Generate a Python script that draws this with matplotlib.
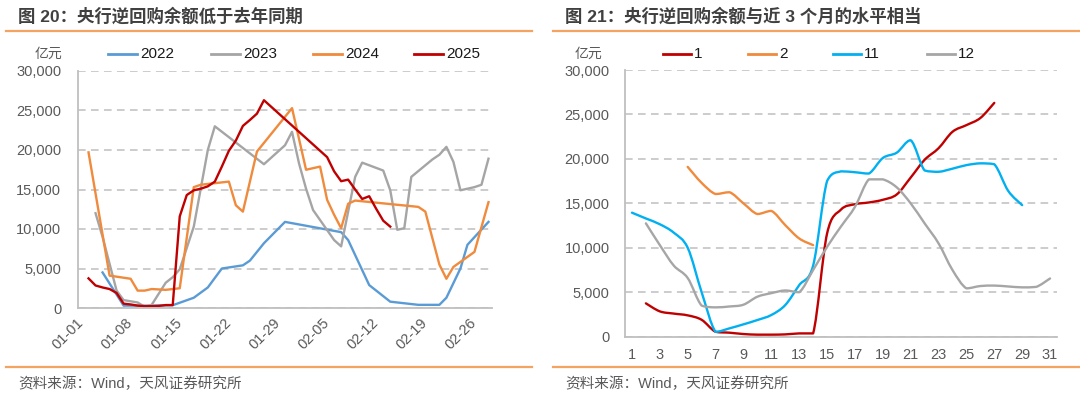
import numpy as np
import matplotlib
matplotlib.use('Agg')
import matplotlib.pyplot as plt
from matplotlib.path import Path
from matplotlib.patches import PathPatch
from matplotlib.lines import Line2D
from matplotlib.ticker import FuncFormatter

plt.rcParams['font.family'] = ['Liberation Sans', 'Noto Sans CJK SC']

# ---- data (亿元) ----
# 图20: x = date mm-dd
dates_2022 = ['01-04', '01-07', '01-10', '01-14', '01-17', '01-19', '01-21', '01-24', '01-25',
              '01-27', '01-30', '02-07', '02-08', '02-11', '02-14', '02-18', '02-21', '02-22',
              '02-24', '02-25', '02-28']
vals_2022 = [4500, 300, 300, 350, 1300, 2600, 5000, 5400, 6000,
             8200, 10900, 9600, 8600, 2900, 800, 400, 400, 1300,
             5000, 8000, 10900]

dates_2023 = ['01-03', '01-04', '01-06', '01-07', '01-09', '01-10', '01-11', '01-13', '01-14',
              '01-15', '01-17', '01-19', '01-20', '01-27', '01-29', '01-30', '01-31', '02-01',
              '02-02', '02-03', '02-06', '02-07', '02-09', '02-10', '02-13', '02-14', '02-15',
              '02-16', '02-17', '02-20', '02-21', '02-22', '02-23', '02-24', '02-26', '02-27',
              '02-28']
vals_2023 = [12000, 9000, 2200, 1000, 700, 150, 400, 3200, 3900,
             4900, 10300, 20000, 23000, 18200, 19800, 20600, 22300, 18300,
             15100, 12400, 8600, 7800, 16600, 18400, 17400, 14900, 9900,
             10100, 16600, 18800, 19400, 20400, 18500, 14900, 15300, 15600,
             18900]

dates_2024 = ['01-02', '01-05', '01-08', '01-09', '01-10', '01-11', '01-13', '01-15', '01-17',
              '01-18', '01-20', '01-22', '01-23', '01-24', '01-25', '01-26', '01-31', '02-02',
              '02-04', '02-05', '02-06', '02-07', '02-08', '02-09', '02-18', '02-19', '02-21',
              '02-22', '02-23', '02-26', '02-28']
vals_2024 = [19700, 4100, 3700, 2200, 2200, 2400, 2300, 2500, 15300,
             15600, 15800, 16000, 13000, 12200, 16000, 19800, 25300, 17500,
             17900, 13700, 11800, 10100, 13200, 13600, 12800, 12200, 5500,
             3700, 5200, 7100, 13400]

# 图21: x = day of month (2025-01, 2025-02, 2024-11, 2024-12)
days_jan = list(range(2, 28))
vals_jan = [3750, 2850, 2600, 2400, 1900, 550, 450, 300, 230, 230, 260, 370, 370,
            11600, 14300, 14900, 15100, 15400, 16000, 17900, 19900, 21200, 23050,
            23800, 24600, 26300]
days_feb = list(range(5, 15))
vals_feb = [19100, 17300, 16050, 16250, 15000, 13800, 14150, 12550, 11050, 10300]
days_nov = list(range(1, 30))
vals_nov = [13950, 13300, 12650, 11700, 10000, 5000, 550, 940, 1390, 1875,
            2440, 3560, 5800, 8000, 17500, 18600, 18500, 18350, 20100, 20700,
            22100, 18700, 18550, 18900, 19300, 19500, 19400, 16400, 14800]
days_dec = list(range(2, 32))
vals_dec = [12750, 10300, 8000, 6600, 3500, 3300, 3400, 3600, 4500, 4900,
            5200, 5000, 7500, 10100, 12400, 14600, 17700, 17700, 16800, 15000,
            12750, 10500, 7500, 5440, 5700, 5750, 5650, 5550, 5600, 6550]

left_ticks = ['01-01', '01-08', '01-15', '01-22', '01-29', '02-05', '02-12', '02-19', '02-26']


def day_index(s):
    m, d = map(int, s.split('-'))
    return (m - 1) * 31 + d - 1


def smooth_path(x, y):
    # Excel-like smoothed line (Catmull-Rom -> cubic Bezier, no overshoot)
    p = np.column_stack([x, y]).astype(float)
    n = len(p)
    verts = [p[0]]
    codes = [Path.MOVETO]
    for i in range(n - 1):
        p0 = p[i - 1] if i > 0 else p[i]
        p3 = p[i + 2] if i + 2 < n else p[i + 1]
        c1 = p[i] + (p[i + 1] - p0) / 6
        c2 = p[i + 1] - (p3 - p[i]) / 6
        lo, hi = min(p[i][1], p[i + 1][1]), max(p[i][1], p[i + 1][1])
        c1[1] = np.clip(c1[1], lo, hi)
        c2[1] = np.clip(c2[1], lo, hi)
        verts += [c1, c2, p[i + 1]]
        codes += [Path.CURVE4] * 3
    return Path(verts, codes)


W, H = 1080, 394
fig = plt.figure(figsize=(W / 100, H / 100), dpi=100)

GRID = '#BFBFBF'
TXT = '#595959'
RULE = '#F4A460'
thousands = FuncFormatter(lambda v, p: f'{int(v):,}')


def style_axis(ax, ypad):
    ax.set_ylim(0, 30000)
    ax.set_yticks(range(0, 30001, 5000))
    ax.yaxis.set_major_formatter(thousands)
    ax.yaxis.grid(True, color=GRID, lw=1.1, ls=(0, (5, 3.5)))
    ax.set_axisbelow(True)
    for s in ['top', 'right']:
        ax.spines[s].set_visible(False)
    for s in ['left', 'bottom']:
        ax.spines[s].set_color(GRID)
        ax.spines[s].set_linewidth(1.3)
    ax.tick_params(length=0, labelsize=10.5, colors=TXT)
    ax.tick_params(axis='y', pad=ypad)


# ---- left: 图20 ----
ax1 = fig.add_axes([78 / W, 1 - 308 / H, 414 / W, 237 / H])
x25 = [d - 1 for d in days_jan] + [30 + d for d in days_feb]
v25 = vals_jan + vals_feb
series_left = [
    ('2022', '#5B9BD5', [day_index(s) for s in dates_2022], vals_2022),
    ('2023', '#A5A5A5', [day_index(s) for s in dates_2023], vals_2023),
    ('2024', '#F08A3C', [day_index(s) for s in dates_2024], vals_2024),
    ('2025', '#C00000', x25, v25),
]
for name, c, xs, vs in series_left:
    ax1.plot(xs, vs, color=c, lw=1.7, solid_joinstyle='round')
style_axis(ax1, 12)
ax1.set_xlim(-0.5, 58.5)
ax1.set_xticks([day_index(s) for s in left_ticks])
ax1.set_xticklabels(left_ticks, rotation=45, ha='right', va='center', rotation_mode='anchor')
ax1.tick_params(axis='x', pad=9)

# ---- right: 图21 ----
ax2 = fig.add_axes([625 / W, 1 - 336.7 / H, 432 / W, 266.7 / H])
series_right = [
    ('1', '#C00000', days_jan, vals_jan),
    ('2', '#F08A3C', days_feb, vals_feb),
    ('11', '#00B0F0', days_nov, vals_nov),
    ('12', '#A6A6A6', days_dec, vals_dec),
]
for name, c, xs, vs in series_right:
    ax2.add_patch(PathPatch(smooth_path(xs, vs), fill=False, edgecolor=c, lw=1.7,
                            capstyle='round', joinstyle='round'))
style_axis(ax2, 11)
ax2.set_xlim(0.5, 31.5)
ax2.set_xticks(range(1, 32, 2))
ax2.tick_params(axis='x', pad=8)

# ---- legends, titles, rules, sources ----
leg_y = 1 - 54 / H


def legend_row(items, starts, length):
    for (name, c, _, _), x0 in zip(items, starts):
        fig.add_artist(Line2D([x0 / W, (x0 + length) / W], [leg_y, leg_y], color=c, lw=2,
                              transform=fig.transFigure))
        fig.text((x0 + length + 3) / W, leg_y, name, fontsize=11, color='#1a1a1a',
                 va='center', ha='left')


legend_row(series_left, [108, 211, 313, 414], 29)
legend_row(series_right, [663, 748, 833, 927], 28)

fig.text(48 / W, leg_y, '亿元', fontsize=10, color=TXT, ha='center', va='center')
fig.text(588 / W, leg_y, '亿元', fontsize=10, color=TXT, ha='center', va='center')

fig.text(18 / W, 1 - 16 / H, '图 20：央行逆回购余额低于去年同期', fontsize=12.5,
         fontweight='bold', color='#404040', va='center')
fig.text(565 / W, 1 - 16 / H, '图 21：央行逆回购余额与近 3 个月的水平相当', fontsize=12.5,
         fontweight='bold', color='#404040', va='center')

for x0, x1 in [(6, 532), (553, 1080)]:
    for yy in [31, 367]:
        fig.add_artist(Line2D([x0 / W, x1 / W], [1 - yy / H, 1 - yy / H], color=RULE, lw=1.6,
                              transform=fig.transFigure))

fig.text(18 / W, 1 - 384 / H, '资料来源：Wind，天风证券研究所', fontsize=10.5, color=TXT, va='center')
fig.text(565 / W, 1 - 384 / H, '资料来源：Wind，天风证券研究所', fontsize=10.5, color=TXT, va='center')

fig.savefig('out.png', dpi=100)
